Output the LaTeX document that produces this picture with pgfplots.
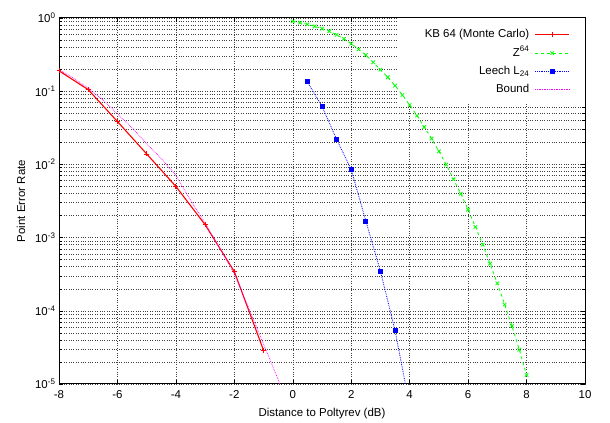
\documentclass[border=0pt]{standalone}
\usepackage{fontspec}
\setmainfont{Liberation Sans}
\usepackage{pgfplots}
\pgfplotsset{compat=1.18}

\definecolor{gpred}{RGB}{255,0,0}
\definecolor{gpgreen}{RGB}{0,255,0}
\definecolor{gpblue}{RGB}{0,0,255}
\definecolor{gpmag}{RGB}{255,0,255}

% grid below a blank patch, ticks above it
\pgfplotsset{
  layers/keyblank/.define layer set={axis background,axis grid,pre main,main,
    axis ticks,axis lines,axis tick labels,axis descriptions,axis foreground}{},
}

\begin{document}
\begin{tikzpicture}[font=\fontsize{11.5}{13}\selectfont]
\begin{axis}[
    set layers=keyblank,
    scale only axis, width=526bp, height=366bp,
    ymode=log, log basis y=10,
    xmin=-8, xmax=10, ymin=1e-5, ymax=1,
    xtick={-8,-6,...,10},
    xticklabels={-8,-6,-4,-2,0,2,4,6,8,10},
    ytick={1e-5,1e-4,1e-3,1e-2,1e-1,1},
    yticklabels={10\textsuperscript{-5},10\textsuperscript{-4},10\textsuperscript{-3},10\textsuperscript{-2},10\textsuperscript{-1},10\textsuperscript{0}},
    minor ytick={2e-5,3e-5,4e-5,5e-5,6e-5,7e-5,8e-5,9e-5,
                 2e-4,3e-4,4e-4,5e-4,6e-4,7e-4,8e-4,9e-4,
                 2e-3,3e-3,4e-3,5e-3,6e-3,7e-3,8e-3,9e-3,
                 2e-2,3e-2,4e-2,5e-2,6e-2,7e-2,8e-2,9e-2,
                 0.2,0.3,0.4,0.5,0.6,0.7,0.8,0.9},
    minor x tick num=0,
    xmajorgrids, ymajorgrids, yminorgrids,
    major grid style={dotted, black!75, line width=0.5pt},
    minor grid style={dotted, black!75, line width=0.5pt},
    tick style={black, line width=0.5pt},
    axis line style={line width=1pt},
    xticklabel style={yshift=-3bp},
    xlabel={Distance to Poltyrev (dB)},
    ylabel={Point Error Rate},
    xlabel style={yshift=-3bp},
    ylabel style={yshift=3bp},
    legend cell align=right,
    legend plot pos=right,
    legend style={at={(0.9715,0.975)}, anchor=north east, draw=none, fill=none,
                  inner sep=0pt, row sep=3.3bp, column sep=4bp,
                  nodes={inner sep=1.5bp, text height=9bp, text depth=3bp}},
]
\fill[white, on layer=pre main] (rel axis cs:0.6445,0.768) rectangle (rel axis cs:1,1);
% KB 64 (Monte Carlo)
\addplot[gpred, line width=1.1pt, mark=+, mark size=2.5pt, mark options={solid, line width=0.8pt},
         legend image code/.code={
           \draw[gpred, line width=1.1pt] (0bp,0bp) -- (34bp,0bp);
           \draw[gpred, mark=+, mark size=2.5pt, mark options={solid, line width=0.8pt}]
             plot coordinates {(17bp,0bp)};}]
  coordinates {(-8,0.19) (-7,0.105) (-6,0.0385) (-5,0.0139) (-4,0.0050)
               (-3,0.00150) (-2,3.43e-4) (-1,2.88e-5)};
\addlegendentry{KB 64 (Monte Carlo)}
% Z^64
\addplot[gpgreen, line width=0.8pt, dashed, mark=x, mark size=2.5pt, mark options={solid, line width=0.8pt},
         legend image code/.code={
           \draw[gpgreen, line width=0.8pt, dashed] (0bp,0bp) -- (34bp,0bp);
           \draw[gpgreen, mark=x, mark size=2.5pt, mark options={solid, line width=0.8pt}]
             plot coordinates {(17bp,0bp)};}]
  coordinates {(0,0.90) (0.25,0.865) (0.5,0.82) (0.75,0.77) (1.0,0.716)
               (1.25,0.66) (1.5,0.59) (1.75,0.52) (2.0,0.447) (2.25,0.373)
               (2.5,0.312) (2.75,0.248) (3.0,0.197) (3.25,0.155) (3.5,0.119)
               (3.75,0.0887) (4.0,0.0648) (4.25,0.0464) (4.5,0.0324) (4.75,0.0225)
               (5.0,0.0151) (5.25,0.00994) (5.5,0.00626) (5.75,0.00398) (6.0,0.00241)
               (6.25,0.0014) (6.5,8.0e-4) (6.75,4.4e-4) (7.0,2.38e-4) (7.25,1.22e-4)
               (7.5,6.2e-5) (7.75,2.95e-5) (8.0,1.33e-5)};
\addlegendentry{Z\textsuperscript{64}}
% Leech L24: tail of the line below the last measured point
\addplot[gpblue, line width=0.8pt, densely dotted, forget plot]
  coordinates {(3.5,5.37e-5) (4,5e-6)};
\addplot[gpblue, line width=0.8pt, densely dotted, mark=square*, mark size=2pt,
         mark options={solid},
         legend image code/.code={
           \draw[gpblue, line width=0.8pt, densely dotted] (0bp,0bp) -- (34bp,0bp);
           \draw[gpblue, mark=square*, mark size=2pt, mark options={solid}]
             plot coordinates {(17bp,0bp)};}]
  coordinates {(0.5,0.134) (1,0.0622) (1.5,0.022) (2,0.0085) (2.5,0.00169)
               (3,3.47e-4) (3.5,5.37e-5)};
\addlegendentry{Leech L\textsubscript{24}}
% Bound
\addplot[gpmag, line width=0.7pt, densely dotted,
         legend image code/.code={
           \draw[gpmag, line width=0.7pt, densely dotted] (0bp,0bp) -- (34bp,0bp);}]
  coordinates {(-8,0.197) (-7.5,0.151) (-7,0.11) (-6.5,0.076) (-6,0.049)
               (-5.5,0.0316) (-5,0.0192) (-4.5,0.0120) (-4,0.0071) (-3.5,0.00324)
               (-3,0.00158) (-2.5,7.2e-4) (-2,3.2e-4) (-1.5,1.07e-4) (-1,3.5e-5)
               (-0.5,1.15e-5) (-0.25,6.3e-6)};
\addlegendentry{Bound}
\end{axis}
\path ([shift={(-59bp,-34bp)}]current axis.south west)
  rectangle ([shift={(25bp,18bp)}]current axis.north east);
\end{tikzpicture}
\end{document}
